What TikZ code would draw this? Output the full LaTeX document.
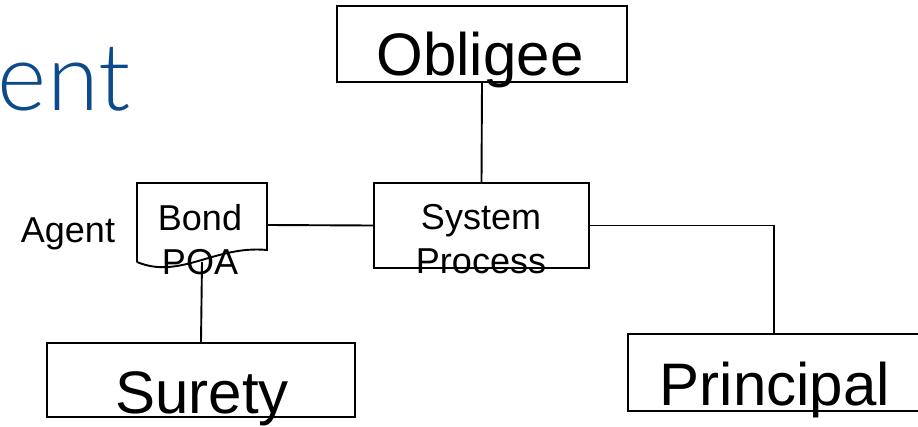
\documentclass[tikz,border=0pt]{standalone}
\usepackage{fontspec}
\setmainfont{Liberation Sans}
\newfontfamily\titlefont{Lato}[UprightFont=* Light]
\usepackage{xcolor}
\usetikzlibrary{positioning}
\definecolor{titleblue}{RGB}{12,74,140}

\begin{document}
\begin{tikzpicture}[x=1pt, y=-1pt, line width=1.9pt,
    partybox/.style={draw, rectangle, inner sep=0pt},
    bigtext/.style={font=\fontsize{60}{66}\selectfont, inner sep=0pt, anchor=base},
    smalltext/.style={font=\fontsize{36}{44.5}\selectfont, inner sep=0pt, align=center, anchor=north}]
    \useasboundingbox (0,0) rectangle (918,426);
    \node[text=titleblue, font=\titlefont\fontsize{94}{100}\selectfont,
      inner sep=0pt, anchor=base west] (title) at (-3,110) {ent};
    % boxes
    \node[partybox, minimum width=290, minimum height=76] (obligee) at (482,44) {};
    \node[bigtext] (obligeetxt) at (480,75) {Obligee};
    \node[partybox, minimum width=215, minimum height=85] (sys) at (481.5,225.5) {};
    \node[smalltext] (systxt) at (481,203) {System\\Process};
    \node[partybox, minimum width=308, minimum height=74] (surety) at (201,380) {};
    \node[bigtext] (suretytxt) at (202,413) {Surety};
    \node[partybox, minimum width=312, minimum height=77] (princ) at (784,372.5) {};
    \node[bigtext] (princtxt) at (775,405) {Principal};
    \coordinate (princtop) at (774,334);
    % bond document
    \node[inner sep=0pt, minimum width=130, minimum height=84] (bond) at (202,225) {};
    \draw (137,262) -- (137,183) -- (267,183) -- (267,250)
      .. controls (215,245) and (180,280) .. (137,262);
    \coordinate (bondfoot) at (202,262);
    \node[smalltext] (bondtxt) at (200,203) {Bond\\POA};
    \node[font=\fontsize{36}{44}\selectfont, inner sep=0pt, anchor=base west] (agent) at (20,242) {Agent};
    % connectors
    \draw (obligee.south) -- (sys.north);
    \draw (bond.east) -- (sys.west);
    \draw (sys.east) -| (princtop);
    \draw (bondfoot) -- (surety.north);
  \end{tikzpicture}
\end{document}
